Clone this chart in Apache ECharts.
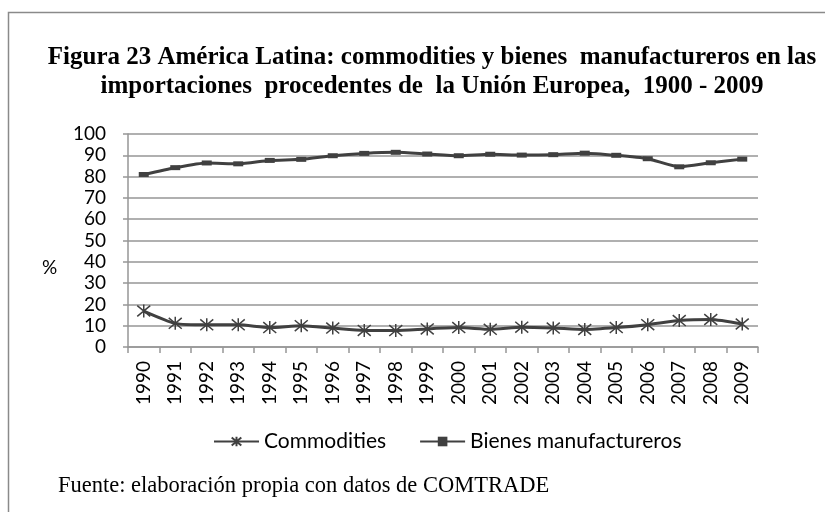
<!DOCTYPE html>
<html>
<head>
<meta charset="utf-8">
<script src="https://cdn.jsdelivr.net/npm/echarts@6/dist/echarts.min.js"></script>
<style>html,body{margin:0;padding:0;background:#fff;}#c{width:825px;height:512px;}</style>
</head>
<body>
<div id="c"></div>
<script>
var years = ['1990','1991','1992','1993','1994','1995','1996','1997','1998','1999','2000','2001','2002','2003','2004','2005','2006','2007','2008','2009'];
var commodities = [16.9,11.1,10.4,10.4,9.1,10.0,8.9,7.8,7.7,8.5,9.1,8.3,9.3,8.9,8.2,9.1,10.5,12.4,12.9,10.8];
var manufactureros = [81.0,84.2,86.4,86.0,87.6,88.1,89.8,90.9,91.4,90.6,89.8,90.5,90.1,90.3,91.0,90.0,88.4,84.6,86.5,88.2];
var seriesNames = ['Commodities','Bienes manufactureros'];
var titleText = 'Figura 23 América Latina: commodities y bienes  manufactureros en las\nimportaciones  procedentes de  la Unión Europea,  1900 - 2009';
var sourceText = 'Fuente: elaboración propia con datos de COMTRADE';
var yName = '%';

var chart = echarts.init(document.getElementById('c'), null, {renderer:'canvas'});
var lineColor = '#404040';
var gridColor = '#969696';
var sans = 'Lato, "Open Sans", sans-serif';
var starPath = 'path://M0,-6L0,6M-5,-5L5,5M-5,5L5,-5';
chart.setOption({
  animation: false,
  backgroundColor: '#fff',
  title: {
    text: titleText,
    left: 427, top: 38, textAlign: 'center',
    textStyle: {fontFamily: '"Liberation Serif", "Times New Roman", serif', fontWeight: 'bold', fontSize: 25, lineHeight: 29, color: '#000'}
  },
  graphic: [
    {type:'rect', shape:{x:8.5,y:12.5,width:830,height:520}, style:{fill:'none', stroke:'#8a8a8a', lineWidth:1.5}, silent:true, z:-1},
    {type:'text', left:58, top:475, style:{text:sourceText, font:'22.5px "Liberation Serif", "Times New Roman", serif', fill:'#000'}},
    {type:'text', left:42, top:258, style:{text:yName, font:'19px ' + sans, fill:'#000'}}
  ],
  legend: {
    left: 208, top: 426,
    itemWidth: 45, itemHeight: 12, itemGap: 33,
    textStyle: {fontFamily: sans, fontSize: 21, color:'#000'},
    data: seriesNames
  },
  grid: {left:128, right:67, top:134, bottom:165},
  xAxis: {
    type:'category', data: years, boundaryGap: true,
    axisLine:{lineStyle:{color:gridColor, width:1.5}},
    axisTick:{show:true, length:6, interval:0, lineStyle:{color:gridColor, width:1.5}},
    axisLabel:{rotate:90, interval:0, margin:14, fontFamily:sans, fontSize:19, color:'#000'}
  },
  yAxis: {
    type:'value', min:0, max:100, interval:10,
    axisLine:{show:true, lineStyle:{color:gridColor, width:1.5}},
    axisTick:{show:true, length:5, lineStyle:{color:gridColor, width:1.5}},
    axisLabel:{margin:22, fontFamily:sans, fontSize:19, color:'#000'},
    splitLine:{lineStyle:{color:gridColor, width:1.5}}
  },
  series: [
    {name: seriesNames[0], type:'line', data: commodities, smooth:0.2,
     symbol: starPath, symbolSize:13,
     lineStyle:{color:lineColor, width:3},
     itemStyle:{color:'none', borderColor:lineColor, borderWidth:1.5}},
    {name: seriesNames[1], type:'line', data: manufactureros, smooth:0.2,
     symbol:'rect', symbolSize:[10,5],
     lineStyle:{color:lineColor, width:3},
     itemStyle:{color:lineColor}}
  ]
});
</script>
</body>
</html>
